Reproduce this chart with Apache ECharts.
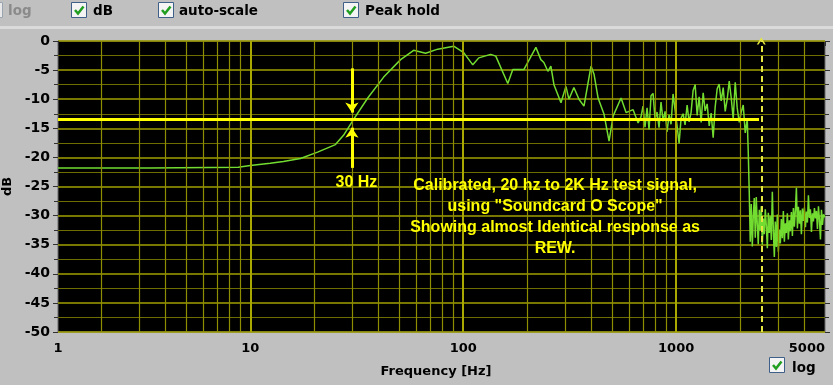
<!DOCTYPE html>
<html><head><meta charset="utf-8">
<script src="https://cdn.jsdelivr.net/npm/echarts@6/dist/echarts.min.js"></script>
<style>html,body{margin:0;padding:0;background:#c0c0c0;overflow:hidden}#c{width:833px;height:385px}</style>
</head><body><div id="c"></div>
<script>
// ---- data ----
const freqHz = [
  1.25, 3.38, 8.78, 10, 12.4, 14.3, 17.2, 20.7, 25.1, 27.4, 30.5, 35.6, 42.3, 50.8, 58.5, 66.6,
  75.9, 90.2, 100.5, 110.9, 118.3, 134.6, 142.2, 161.9, 170.9, 192.6, 219.4, 231.5, 239.2, 249.8,
  258, 266.7, 287.8, 303.6, 313.6, 330.9, 349.6, 369, 398.2, 411.4, 429.8, 458.5, 484, 505.6, 551,
  581.7, 627.8, 662.6,
  684, 699, 714, 730, 746, 762, 779, 796, 813, 831, 849, 868, 887, 906, 926, 946, 967, 988, 1010,
  1032, 1055, 1078, 1101, 1126, 1150, 1175, 1201, 1228, 1255, 1282, 1310, 1339, 1368, 1398, 1429,
  1460, 1492, 1525, 1558, 1592, 1627, 1663, 1699, 1737, 1775, 1814, 1853, 1894, 1935, 1978, 2021,
  2065, 2111, 2157, 2180, 2204,
  2228, 2253, 2278, 2302, 2327, 2353, 2378, 2404, 2430, 2457, 2484, 2511, 2538, 2566, 2594, 2622,
  2651, 2680, 2709, 2738, 2768, 2798, 2829, 2860, 2891, 2922, 2954, 2986, 3019, 3052, 3085, 3119,
  3153, 3187, 3222, 3257, 3292, 3328, 3364, 3401, 3438, 3476, 3514, 3552, 3591, 3630, 3670, 3710,
  3750, 3791, 3832, 3874, 3916, 3959, 4002, 4046, 4090, 4134, 4179, 4225, 4271, 4318, 4365, 4412,
  4460, 4509, 4558, 4608, 4658, 4709, 4760, 4812, 4865, 4918, 5000
];
const levelDb = [
  -21.8, -21.8, -21.7, -21.4, -21.0, -20.7, -20.2, -19.1, -17.8, -16.2, -13.5, -9.8, -6.2, -3.2, -1.6, -2.1,
  -1.4, -0.9, -2.0, -4.1, -2.9, -2.3, -2.6, -7.3, -4.9, -4.9, -1.1, -3.2, -3.7, -5.2,
  -4.3, -7.5, -10.6, -7.8, -10.0, -8.0, -10.0, -11.2, -4.3, -5.7, -9.8, -12.6, -17.2, -12.9, -9.8,
  -12.3, -11.8, -14.1,
  -13.0, -11.2, -14.8, -11.5, -15.2, -9.4, -9.0, -13.5, -12.2, -14.9, -10.5, -13.8, -12.1, -15.6, -12.7, -14.3, -9.1, -11.8, -14.6,
  -17.6, -13.2, -12.5, -14.4, -11.0, -13.9, -12.3, -8.5, -7.5, -12.8, -9.6, -14.0, -8.9, -12.0, -10.8, -14.6,
  -12.4, -16.6, -11.3, -8.2, -7.4, -10.3, -8.0, -12.1, -10.0, -6.9, -9.8, -13.4, -7.1, -11.5, -14.0, -12.2,
  -11.0, -15.8, -13.4, -19.0, -26.0,
  -34.5, -28.0, -35.3, -30.2, -27.0, -33.8, -26.8, -31.5, -34.9, -29.0, -32.6, -28.4, -35.0, -30.5, -33.2, -28.9,
  -31.8, -35.6, -29.5, -33.0, -30.1, -34.2, -25.9, -32.5, -37.1, -31.0, -35.4, -29.8, -36.2, -32.4, -34.8, -30.6,
  -33.9, -29.2, -34.5, -31.3, -33.0, -29.6, -34.1, -30.8, -32.7, -29.4, -33.5, -28.7, -31.9, -29.0, -25.2, -32.2,
  -28.5, -31.4, -29.1, -33.2, -28.8, -30.9, -28.6, -32.0, -29.3, -31.2, -26.5, -30.4, -28.9, -32.8, -29.6, -31.0,
  -28.7, -30.5, -29.2, -32.3, -28.4, -30.7, -34.1, -29.0, -31.6, -29.8, -30.3
];
const refLineFreq = [1.25, 2450];
const refLineDb = [-13.5, -13.5];
const cutoffFreq = 30;
const arrowDownDb = [-4.7, -12.3];
const arrowUpDb = [-21.8, -14.9];
const markerFreq = 2510;
const decadeFreqs = [10, 100, 1000];
const minorFreqs = [2,3,4,5,6,7,8,9,20,30,40,50,60,70,80,90,200,300,400,500,600,700,800,900,2000,3000,4000];
const xMin = 1.25, xMax = 5000;
const yMin = -50, yMax = 0, yStep = 5;
const label30 = '30 Hz';
const label30At = [31.5, -24.4];
const noteLines = ['Calibrated, 20 hz to 2K Hz test signal,', 'using "Soundcard O Scope"', 'Showing almost Identical response as', 'REW.'];
const noteAt = [270, -30.26];

// ---- chart ----
const chart = echarts.init(document.getElementById('c'));
const F = 'DejaVu Sans';
const tickStyle = {color: '#303030', width: 1};
const yellow = '#ffff00';
const chevron = 'path://M0,10 L5,0 L10,10 L8,10 L5,4 L2,10 Z';

chart.setOption({
  animation: false,
  backgroundColor: '#c0c0c0',
  grid: {left: 58, top: 41, width: 767, height: 291, outerBoundsMode: 'none', containLabel: false,
    show: true, backgroundColor: '#000', borderColor: '#6a6a6a', borderWidth: 1},
  xAxis: {
    type: 'log', logBase: 10, min: xMin, max: xMax,
    name: 'Frequency [Hz]', nameLocation: 'middle', nameGap: 33,
    nameTextStyle: {fontFamily: F, fontWeight: 'bold', fontSize: 13, color: '#000', padding: [0, 11, 0, 0]},
    axisLine: {show: false},
    axisTick: {show: true, length: 5, lineStyle: tickStyle},
    axisLabel: {fontFamily: F, fontWeight: 'bold', fontSize: 13, color: '#000', margin: 10,
      showMinLabel: true, showMaxLabel: true, alignMaxLabel: 'right',
      formatter: v => (v < 2 ? '1' : String(Math.round(v)))},
    splitLine: {show: false}
  },
  yAxis: [{
    type: 'value', min: yMin, max: yMax, interval: yStep,
    name: 'dB', nameLocation: 'middle', nameGap: 41, nameRotate: 90,
    nameTextStyle: {fontFamily: F, fontWeight: 'bold', fontSize: 13, color: '#000'},
    axisLine: {show: false},
    axisTick: {show: true, length: 5, lineStyle: tickStyle},
    minorTick: {show: true, splitNumber: 2, length: 4, lineStyle: tickStyle},
    axisLabel: {fontFamily: F, fontWeight: 'bold', fontSize: 14, color: '#000', margin: 8},
    splitLine: {show: true, lineStyle: {color: '#a0a000', width: 1.5}},
    minorSplitLine: {show: true, lineStyle: {color: '#6e6e00', width: 1}}
  }, {
    type: 'value', min: yMin, max: yMax, interval: yStep, position: 'right',
    axisLine: {show: false},
    axisTick: {show: true, length: 5, lineStyle: tickStyle},
    minorTick: {show: true, splitNumber: 2, length: 4, lineStyle: tickStyle},
    axisLabel: {show: false}, splitLine: {show: false}
  }],
  series: [
    {
      type: 'line', data: [], silent: true, z: 1,
      markLine: {silent: true, symbol: ['none', 'none'], label: {show: false}, animation: false,
        data: decadeFreqs.map(f => ({xAxis: f, lineStyle: {color: '#a8a800', width: 2, type: 'solid'}}))
          .concat(minorFreqs.map(f => ({xAxis: f, lineStyle: {color: '#8e8e00', width: 1.2, type: 'solid'}})))}
    },
    {
      type: 'line', data: freqHz.map((f, i) => [f, levelDb[i]]), showSymbol: false, symbol: 'none',
      lineStyle: {color: '#72dc30', width: 1.5}, z: 3, silent: true
    },
    {
      type: 'line', data: [], silent: true, z: 4,
      markLine: {silent: true, symbol: ['none', chevron], symbolSize: [9, 7], label: {show: false}, animation: false,
        lineStyle: {color: '#e6e640', width: 2, type: [6, 4]},
        data: [[{coord: [markerFreq, yMin]}, {coord: [markerFreq, yMax]}]]}
    },
    {
      type: 'line', data: refLineFreq.map((f, i) => [f, refLineDb[i]]), symbol: 'none', silent: true,
      lineStyle: {color: yellow, width: 3}, z: 5,
      markLine: {silent: true, symbol: ['none', 'arrow'], symbolSize: [10, 10], label: {show: false}, animation: false,
        lineStyle: {color: yellow, width: 3, type: 'solid'},
        data: [
          [{coord: [cutoffFreq, arrowDownDb[0]]}, {coord: [cutoffFreq, arrowDownDb[1]]}],
          [{coord: [cutoffFreq, arrowUpDb[0]]}, {coord: [cutoffFreq, arrowUpDb[1]]}]
        ]}
    }
  ]
});

// ---- annotations and window chrome ----
const p30 = chart.convertToPixel({xAxisIndex: 0, yAxisIndex: 0}, label30At);
const pNote = chart.convertToPixel({xAxisIndex: 0, yAxisIndex: 0}, noteAt);
const TF = 'Liberation Sans';
function checkbox(x, y) {
  return [
    {type: 'rect', shape: {x: x + 0.5, y: y + 0.5, width: 15, height: 15}, style: {fill: '#f4f4f4', stroke: '#3d5f88', lineWidth: 1}, silent: true},
    {type: 'polyline', shape: {points: [[x + 4, y + 8], [x + 7, y + 11.5], [x + 12.5, y + 4.5]]}, style: {stroke: '#1f9e1f', lineWidth: 2.5, fill: null}, silent: true}
  ];
}
function uiText(x, y, t, color) {
  return {type: 'text', x: x, y: y, style: {text: t, fontFamily: F, fontWeight: 'bold', fontSize: 13.5, fill: color || '#000', verticalAlign: 'middle', align: 'left'}, silent: true};
}
const els = [
  {type: 'rect', shape: {x: 0, y: 26, width: 833, height: 3}, style: {fill: '#dadada'}, silent: true, z: -1},
  {type: 'rect', shape: {x: -14.5, y: 2.5, width: 17, height: 15}, style: {fill: '#e8e8e8', stroke: '#9aa4b0', lineWidth: 1}, silent: true},
  uiText(8, 11, 'log', '#8a8a8a'),
  ...checkbox(71, 2), uiText(93, 11, 'dB'),
  ...checkbox(158, 2), uiText(179, 11, 'auto-scale'),
  ...checkbox(343, 2), uiText(365, 11, 'Peak hold'),
  ...checkbox(769, 357), uiText(792, 368, 'log'),
  {type: 'text', x: p30[0], y: p30[1], z: 10, silent: true,
    style: {text: label30, fontFamily: TF, fontWeight: 'bold', fontSize: 16, fill: yellow, align: 'center', verticalAlign: 'middle'}},
  {type: 'text', x: pNote[0], y: pNote[1], z: 10, silent: true,
    style: {text: noteLines.join('\n'), fontFamily: TF, fontWeight: 'bold', fontSize: 16, lineHeight: 21, fill: yellow, align: 'center', verticalAlign: 'middle'}}
];
chart.setOption({graphic: {elements: els}});
</script>
</body></html>
